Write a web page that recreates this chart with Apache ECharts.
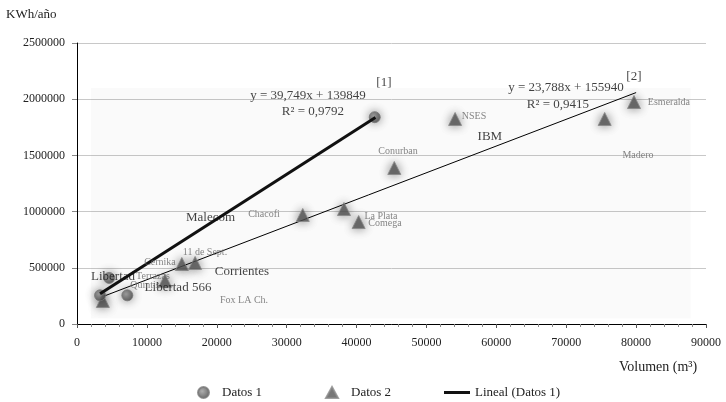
<!DOCTYPE html>
<html>
<head>
<meta charset="utf-8">
<script src="https://cdn.jsdelivr.net/npm/echarts@6/dist/echarts.min.js"></script>
<style>html,body{margin:0;padding:0;background:#fff}#c{width:726px;height:402px}</style>
</head>
<body>
<div id="c"></div>
<script>
// ---- data ----
var datos1 = [[3300, 255000], [7200, 255000], [4600, 410000], [42600, 1840000]];
var datos2 = [[3700, 205000], [12600, 385000], [15000, 534000], [16900, 543000],
  [32300, 970000], [38200, 1023000], [40300, 907000], [45400, 1388000],
  [54100, 1824000], [75500, 1824000], [79700, 1975000]];
var lineal1 = [[3300, 270000], [42700, 1837000]];
var lineal2 = [[3400, 237000], [80000, 2059000]];

var bigNames = ['Libertad', 'Libertad 566', 'Corrientes', 'Malecom', 'IBM'];
var bigX = [5150, 14450, 23600, 19100, 59080];
var bigY = [418000, 320000, 462000, 943000, 1664000];

var smallNames = ['Cernika', '11 de Sept.', 'Terrazas', 'Quintis', 'Fox LA Ch.', 'Chacofi',
  'La Plata', 'Comega', 'Conurban', 'NSES', 'Esmeralda', 'Madero'];
var smallX = [11870, 18310, 10870, 9730, 23900, 26750, 43490, 44060, 45920, 56800, 84700, 80260];
var smallY = [552000, 641000, 420000, 347000, 213000, 979000, 961000, 899000, 1539000, 1850000, 1975000, 1503000];

var eqTexts = ['y = 39,749x + 139849', 'R² = 0,9792', '[1]', 'y = 23,788x + 155940', 'R² = 0,9415', '[2]'];
var eqX = [33050, 33760, 43920, 69960, 68810, 79690];
var eqY = [2028000, 1886000, 2144000, 2099000, 1948000, 2197000];

var xTicks = [0, 10000, 20000, 30000, 40000, 50000, 60000, 70000, 80000, 90000];
var yTicks = [0, 500000, 1000000, 1500000, 2000000, 2500000];

var FONT = 'Liberation Serif';
function zip(xs, ys, names) {
  return xs.map(function (x, i) { return { value: [x, ys[i]], name: names[i] }; });
}
function textSeries(name, data, size, color) {
  return {
    name: name, type: 'scatter', data: data, symbolSize: 0, silent: true, z: 5,
    label: { show: true, position: 'inside', formatter: '{b}', fontFamily: FONT, fontSize: size, color: color }
  };
}
var circleFill = { type: 'radial', x: 0.4, y: 0.4, r: 0.6, colorStops: [{ offset: 0, color: '#999' }, { offset: 1, color: '#444' }] };
var legendTextWide = { fontFamily: FONT, fontSize: 13, color: '#222', padding: [0, 0, 0, 8] };
var legendText = { fontFamily: FONT, fontSize: 13, color: '#222' };

var chart = echarts.init(document.getElementById('c'));
chart.setOption({
  animation: false,
  backgroundColor: '#fff',
  grid: { left: 77, right: 20, top: 43, bottom: 78 },
  xAxis: {
    type: 'value', min: xTicks[0], max: xTicks[xTicks.length - 1], interval: 10000,
    axisLine: { lineStyle: { color: '#000', width: 1 } },
    axisTick: { show: true, inside: false, length: 4, lineStyle: { color: '#555' } },
    minorTick: { show: true, splitNumber: 5, length: 3, lineStyle: { color: '#888' } },
    axisLabel: { fontFamily: FONT, fontSize: 12, color: '#222', margin: 13, formatter: function (v) { return String(v); } },
    splitLine: { show: false }
  },
  yAxis: {
    type: 'value', min: yTicks[0], max: yTicks[yTicks.length - 1], interval: 500000,
    axisLine: { show: true, lineStyle: { color: '#000', width: 1 } },
    axisTick: { show: true, length: 5, lineStyle: { color: '#888' } },
    axisLabel: { fontFamily: FONT, fontSize: 12, color: '#222', margin: 12, formatter: function (v) { return String(v); } },
    splitLine: { show: true, lineStyle: { color: '#c8c8c8', width: 1 } }
  },
  legend: [
    { bottom: -2, left: 192, itemWidth: 11, itemHeight: 11, selectedMode: false, textStyle: legendTextWide,
      data: [{ name: 'Datos 1', icon: 'circle', itemStyle: { color: circleFill, shadowBlur: 0 } }] },
    { bottom: -2, left: 320, itemWidth: 12, itemHeight: 11, selectedMode: false, textStyle: legendTextWide,
      data: [{ name: 'Datos 2', icon: 'triangle', itemStyle: { color: '#555', shadowBlur: 0 } }] },
    { bottom: -2, left: 439, itemWidth: 26, itemHeight: 3, itemGap: 0, selectedMode: false, textStyle: legendText,
      data: [{ name: 'Lineal (Datos 1)', icon: 'rect', itemStyle: { color: '#111' } }] }
  ],
  graphic: [
    { type: 'text', left: 6, top: 8, style: { text: 'KWh/año', font: '13px "Liberation Serif"', fill: '#222' } },
    { type: 'text', left: 619, top: 360, style: { text: 'Volumen (m³)', font: '14px "Liberation Serif"', fill: '#222' } }
  ],
  series: [
    {
      name: 'Lineal (Datos 2)', type: 'line', data: lineal2, symbol: 'none', z: 3,
      lineStyle: { color: '#000', width: 1 }, itemStyle: { color: '#000' },
      markArea: {
        silent: true, itemStyle: { color: 'rgba(0,0,0,0.02)' },
        data: [[{ coord: [2000, 50000] }, { coord: [87800, 2100000] }]]
      }
    },
    {
      name: 'Lineal (Datos 1)', type: 'line', data: lineal1, symbol: 'none', z: 4,
      lineStyle: { color: '#111', width: 3 }, itemStyle: { color: '#111' }
    },
    {
      name: 'Datos 2', type: 'scatter', data: datos2, symbol: 'triangle', symbolSize: 13, z: 3,
      itemStyle: { color: '#555', borderColor: '#888', borderWidth: 1, shadowBlur: 10, shadowColor: 'rgba(0,0,0,0.55)' }
    },
    {
      name: 'Datos 1', type: 'scatter', data: datos1, symbol: 'circle', symbolSize: 11, z: 3,
      itemStyle: { color: circleFill, borderColor: '#777', borderWidth: 1, shadowBlur: 10, shadowColor: 'rgba(0,0,0,0.55)' }
    },
    textSeries('big', zip(bigX, bigY, bigNames), 13, '#111'),
    textSeries('small', zip(smallX, smallY, smallNames), 10, '#666'),
    textSeries('eq', zip(eqX, eqY, eqTexts), 13, '#111')
  ]
});
</script>
</body>
</html>
